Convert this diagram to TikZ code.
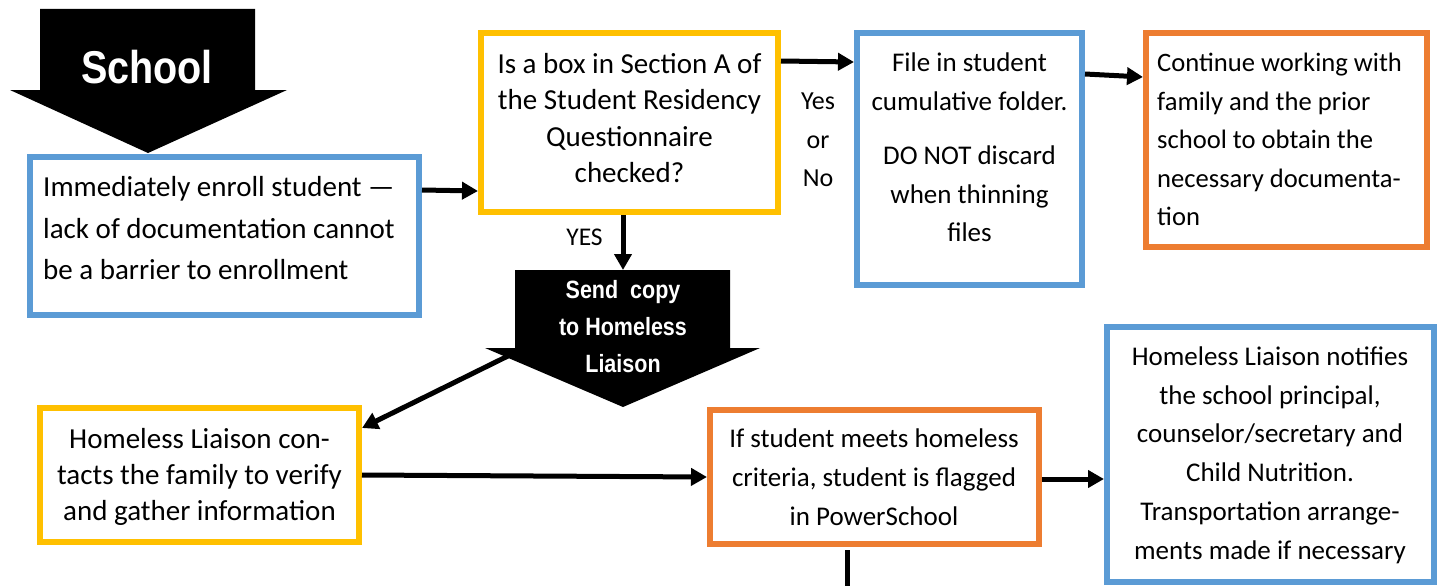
\documentclass[tikz,border=0pt]{standalone}
\usepackage{fontspec}
\setmainfont{Carlito}
\newfontfamily\condfont[FakeStretch=0.86]{Liberation Sans}
\usetikzlibrary{arrows.meta}
\definecolor{boxblue}{HTML}{5B9BD5}
\definecolor{boxyellow}{HTML}{FFC000}
\definecolor{boxorange}{HTML}{ED7D31}
\tikzset{
  box/.style={draw, line width=6pt, fill=white, inner sep=0pt},
  bluebox/.style={box, draw=boxblue},
  yellowbox/.style={box, draw=boxyellow},
  orangebox/.style={box, draw=boxorange},
  conn/.style={line width=5pt, -{Triangle[length=16pt,width=17pt]}},
  bodytext/.style={inner sep=0pt, text=black},
  arrowtext/.style={text=white, align=center, inner sep=0pt},
  bigarrow/.style={fill=black},
  lbl/.style={inner sep=0pt, text=black, align=center},
}
\begin{document}
\begin{tikzpicture}[x=1pt,y=-1pt]
\useasboundingbox (0,0) rectangle (1442,586);
\fill[white] (0,0) rectangle (1442,586);

% big black arrows
\fill[bigarrow] (40,9) -- (255,9) -- (255,90) -- (287,90) -- (148,153) -- (10,90) -- (40,90) -- cycle;
\node[arrowtext, anchor=base, font=\condfont\bfseries\fontsize{46}{46}\selectfont] (school) at (147,83) {School};

\fill[bigarrow] (515,270) -- (730,270) -- (730,348) -- (760,348) -- (623,407) -- (485,348) -- (515,348) -- cycle;
\node[arrowtext, font=\condfont\bfseries\fontsize{25}{37}\selectfont] (sendtxt) at (623,327) {Send\ \ copy\\to Homeless\\Liaison};
\coordinate (sctop) at (623,270);
\coordinate (scout) at (512,354);

% boxes
\node[bluebox, minimum width=389pt, minimum height=158pt] (b1) at (224.5,236) {};
\node[bodytext, anchor=west, align=left, font=\fontsize{29}{41.5}\selectfont] (b1t) at (43,228.5)
  {Immediately enroll student —\\lack of documentation cannot\\be a barrier to enrollment};

\node[yellowbox, minimum width=297pt, minimum height=179pt] (b2) at (629.5,122.5) {};
\node[bodytext, align=center, font=\fontsize{29}{36.2}\selectfont] (b2t) at (629.5,118)
  {Is a box in Section A of\\the Student Residency\\Questionnaire\\checked?};

\node[bluebox, minimum width=225pt, minimum height=252pt] (b3) at (969.5,159) {};
\node[bodytext, align=center, font=\fontsize{27}{38.5}\selectfont] (b3t) at (969.5,147.5)
  {File in student\\cumulative folder.\\[16pt]DO NOT discard\\when thinning\\files};

\node[orangebox, minimum width=281pt, minimum height=214pt] (b4) at (1286.5,140) {};
\node[bodytext, anchor=west, align=left, font=\fontsize{26.6}{38.5}\selectfont] (b4t) at (1157,139.5)
  {Continue working with\\family and the prior\\school to obtain the\\necessary documenta-\\tion};

\node[yellowbox, minimum width=319pt, minimum height=134pt] (b5) at (199.5,475) {};
\node[bodytext, align=center, font=\fontsize{29}{36}\selectfont] (b5t) at (199.5,477)
  {Homeless Liaison con-\\tacts the family to verify\\and gather information};

\node[orangebox, minimum width=329pt, minimum height=134pt] (b6) at (874.5,477) {};
\node[bodytext, align=center, font=\fontsize{27}{38.8}\selectfont] (b6t) at (874,477)
  {If student meets homeless\\criteria, student is flagged\\in PowerSchool};

\node[bluebox, minimum width=327pt, minimum height=255pt] (b7) at (1270.5,454.5) {};
\node[bodytext, align=center, font=\fontsize{27}{38.8}\selectfont] (b7t) at (1270,455)
  {Homeless Liaison notifies\\the school principal,\\counselor/secretary and\\Child Nutrition.\\Transportation arrange-\\ments made if necessary};

% labels
\node[lbl, font=\fontsize{26}{38.5}\selectfont] (yn) at (818,140) {Yes\\or\\No};
\node[lbl, font=\fontsize{25.5}{25.5}\selectfont] (yes) at (584.5,237) {YES};

% connectors
\draw[conn] (b1.east |- 0,190) -- (b2.west |- 0,191);
\draw[conn] (b2.east |- 0,61) -- (b3.west |- 0,62);
\draw[conn] (b3.east |- 0,74) -- (b4.west |- 0,77);
\draw[conn] (b2.south -| sctop) -- (sctop);
\draw[conn] (scout) -- (b5.east |- 0,428);
\draw[conn] (b5.east |- 0,475) -- (b6.west |- 0,477);
\draw[conn] (b6.east |- 0,479) -- (b7.west |- 0,479);
\coordinate (bottomend) at (847,586);
\draw[line width=5pt, shorten <=3pt] (b6.south -| bottomend) -- (bottomend);
\end{tikzpicture}
\end{document}
